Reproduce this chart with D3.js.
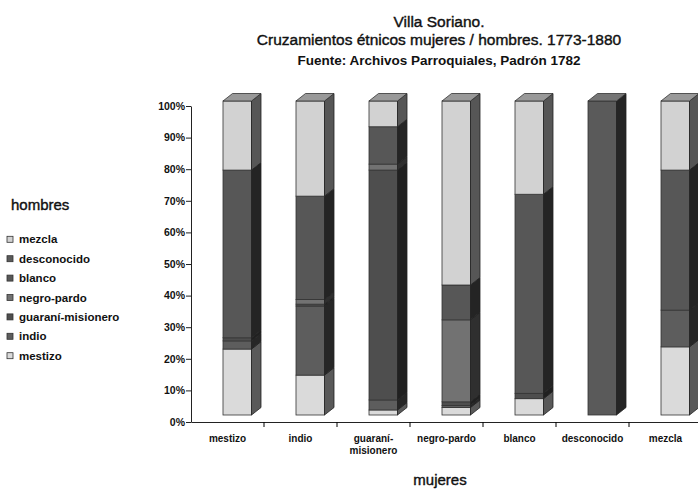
<!DOCTYPE html>
<html>
<head>
<meta charset="utf-8">
<script src="https://cdn.jsdelivr.net/npm/d3@7"></script>
<style>
body { margin: 0; background: #fff; }
text { font-family: "Liberation Sans", Arial, sans-serif; fill: #111; }
</style>
</head>
<body>
<svg width="698" height="492"></svg>
<script>

// columnas: origen de las mujeres
const mujeres = ["mestizo", "indio", "guaraní-misionero", "negro-pardo", "blanco", "desconocido", "mezcla"]
const etiquetas = ["mestizo", "indio", "guaraní-\nmisionero", "negro-pardo", "blanco", "desconocido", "mezcla"]

// series: origen de los hombres (% dentro de cada columna)
const hombres = ["mestizo", "indio", "guaraní-misionero", "negro-pardo", "blanco", "desconocido", "mezcla"]
const mestizo     = [21,   12.7,  1.6,  2.4,  5.2,   0, 21.7]
const indio       = [2.6,  22,    3.2,  0.6,  0,     0, 11.7]
const guarani     = [1,    0.6,  73.2,  1.2,  1.7,   0, 0]
const negroPardo  = [0,    1.5,   1.9, 26.1,  0,     0, 0]
const blanco      = [53.4, 32.9, 11.9, 11.1, 63.4,   0, 44.6]
const desconocido = [0,    0,     0,    0,    0,   100, 0]
const mezcla      = [22,   30.3,  8.2, 58.6, 29.7,   0, 22]

const yTicks = [0, 10, 20, 30, 40, 50, 60, 70, 80, 90, 100]

const colores = ["#dadada", "#5d5d5d", "#4e4e4e", "#727272", "#575757", "#5a5a5a", "#d2d2d2"]

const series = [mestizo, indio, guarani, negroPardo, blanco, desconocido, mezcla]

const tabla = mujeres.map(function (m, i) {
    const fila = {mujer: m}
    hombres.forEach(function (h, j) { fila[h] = series[j][i] })
    return fila
})

const svg = d3.select("svg")

const x = d3.scaleBand()
    .domain(mujeres)
    .range([191, 702])

const y = d3.scaleLinear()
    .domain([0, 100])
    .range([422, 106])

// la cara frontal de las columnas queda un poco más arriba que el eje
const yBar = d3.scaleLinear()
    .domain([0, 100])
    .range([415, 101])

const color = d3.scaleOrdinal()
    .domain(hombres)
    .range(colores)

const barOffset = 32
const barWidth = 28.5
const dx = 9.5
const dy = 7.5

const stacked = d3.stack().keys(hombres)(tabla)

// columnas 3D
const barras = svg.append("g")

mujeres.forEach(function (m, i) {
    const g = barras.append("g")
    const x0 = x(m) + barOffset
    const x1 = x0 + barWidth
    let topSeg = null

    stacked.forEach(function (s) {
        const d = s[i]
        if (d[1] - d[0] <= 0) return
        const c = color(s.key)
        const yTop = yBar(d[1])
        const yBot = yBar(d[0])

        g.append("rect")
            .attr("x", x0)
            .attr("y", yTop)
            .attr("width", barWidth)
            .attr("height", yBot - yTop)
            .attr("fill", c)
            .attr("stroke", "#333")
            .attr("stroke-width", 0.8)

        g.append("path")
            .attr("d", d3.line()([[x1, yTop], [x1 + dx, yTop - dy], [x1 + dx, yBot - dy], [x1, yBot]]) + "Z")
            .attr("fill", d3.color(c).darker(2.5))
            .attr("stroke", "#222")
            .attr("stroke-width", 0.8)

        topSeg = {c: c, yTop: yTop}
    })

    if (topSeg) {
        const t = topSeg.yTop
        g.append("path")
            .attr("d", d3.line()([[x0, t], [x0 + dx, t - dy], [x1 + dx, t - dy], [x1, t]]) + "Z")
            .attr("fill", d3.interpolateRgb(topSeg.c, "#808080")(0.7))
            .attr("stroke", "#333")
            .attr("stroke-width", 0.8)
    }
})

// eje Y
const yAxis = svg.append("g")
    .attr("transform", "translate(191,0)")
    .call(d3.axisLeft(y).tickValues(yTicks).tickSize(5).tickSizeOuter(0).tickPadding(1)
        .tickFormat(function (d) { return d + "%" }))

yAxis.selectAll("text")
    .style("font-size", "10.5px")
    .style("font-weight", "bold")

// eje X
const xAxis = svg.append("g")
    .attr("transform", "translate(0,422)")
    .call(d3.axisBottom(x).tickSize(0).tickSizeOuter(0).tickFormat(""))

xAxis.selectAll("line.limite")
    .data(d3.range(1, mujeres.length + 1))
    .enter()
    .append("line")
    .attr("class", "limite")
    .attr("x1", function (d) { return x.range()[0] + d * x.step() })
    .attr("x2", function (d) { return x.range()[0] + d * x.step() })
    .attr("y1", 0)
    .attr("y2", 5)
    .attr("stroke", "#000")

svg.selectAll("path.domain, .tick line").attr("stroke", "#222")

const labels = svg.append("g")
labels.selectAll("text")
    .data(mujeres)
    .enter()
    .append("text")
    .attr("text-anchor", "middle")
    .attr("x", function (d) { return x(d) + x.bandwidth() / 2 })
    .attr("y", 441.5)
    .style("font-size", "10px")
    .style("font-weight", "bold")
    .each(function (d, i) {
        const lines = etiquetas[i].split("\n")
        const t = d3.select(this)
        lines.forEach(function (l, k) {
            t.append("tspan")
                .attr("x", x(d) + x.bandwidth() / 2)
                .attr("dy", k === 0 ? 0 : 12)
                .text(l)
        })
    })

// títulos
const titulos = [
    {t: "Villa Soriano.", y: 27, size: "15.5px", weight: "normal"},
    {t: "Cruzamientos étnicos mujeres / hombres. 1773-1880", y: 44.5, size: "15.5px", weight: "normal"},
    {t: "Fuente: Archivos Parroquiales, Padrón 1782", y: 64.5, size: "13.5px", weight: "bold"}
]

svg.selectAll("text.titulo")
    .data(titulos)
    .enter()
    .append("text")
    .attr("class", "titulo")
    .attr("x", 439)
    .attr("y", function (d) { return d.y })
    .attr("text-anchor", "middle")
    .style("font-size", function (d) { return d.size })
    .style("font-weight", function (d) { return d.weight })
    .style("stroke", "#111")
    .style("stroke-width", function (d) { return d.weight === "bold" ? 0 : 0.4 })
    .text(function (d) { return d.t })

svg.append("text")
    .attr("x", 440)
    .attr("y", 485)
    .attr("text-anchor", "middle")
    .style("font-size", "15px")
    .style("stroke", "#111")
    .style("stroke-width", 0.4)
    .text("mujeres")

// leyenda
svg.append("text")
    .attr("x", 11)
    .attr("y", 210)
    .style("font-size", "15px")
    .style("stroke", "#111")
    .style("stroke-width", 0.4)
    .text("hombres")

const leyenda = svg.append("g")
    .selectAll("g")
    .data(hombres.slice().reverse())
    .enter()
    .append("g")
    .attr("transform", function (d, i) { return "translate(7," + (239.3 + i * 19.4) + ")" })

leyenda.append("rect")
    .attr("x", 0)
    .attr("y", -3)
    .attr("width", 6)
    .attr("height", 6)
    .attr("fill", function (d) { return color(d) })
    .attr("stroke", "#333")
    .attr("stroke-width", 0.8)

leyenda.append("text")
    .attr("x", 12)
    .attr("y", 4)
    .style("font-size", "11.5px")
    .style("font-weight", "bold")
    .text(function (d) { return d })

</script>
</body>
</html>
